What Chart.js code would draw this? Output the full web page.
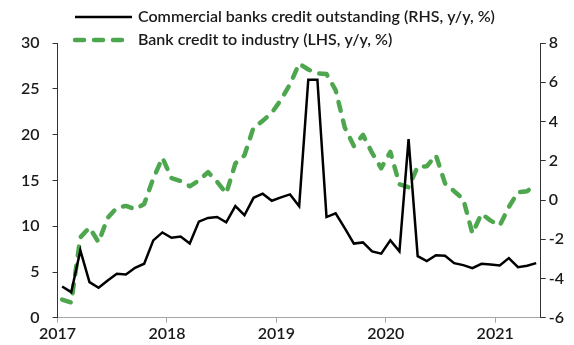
<!DOCTYPE html>
<html>
<head>
<meta charset="utf-8">
<script src="https://cdn.jsdelivr.net/npm/chart.js@4.4.1/dist/chart.umd.min.js"></script>
<style>
  html, body { margin: 0; padding: 0; background: #fff; }
  #wrap { width: 574px; height: 345px; position: relative; }
</style>
</head>
<body>
<div id="wrap"><canvas id="c"></canvas></div>
<script>
// Monthly observations, Jan 2017 - May 2021
const months = [
  '2017-01','2017-02','2017-03','2017-04','2017-05','2017-06','2017-07','2017-08','2017-09','2017-10','2017-11','2017-12',
  '2018-01','2018-02','2018-03','2018-04','2018-05','2018-06','2018-07','2018-08','2018-09','2018-10','2018-11','2018-12',
  '2019-01','2019-02','2019-03','2019-04','2019-05','2019-06','2019-07','2019-08','2019-09','2019-10','2019-11','2019-12',
  '2020-01','2020-02','2020-03','2020-04','2020-05','2020-06','2020-07','2020-08','2020-09','2020-10','2020-11','2020-12',
  '2021-01','2021-02','2021-03','2021-04','2021-05'
];

// Commercial banks credit outstanding, y/y %
const commercialCredit = [
  3.42, 2.8, 7.36, 3.9, 3.28, 4.08, 4.8, 4.73, 5.46, 5.9, 8.45, 9.32,
  8.74, 8.88, 8.12, 10.5, 10.9, 11.0, 10.42, 12.2, 11.2, 13.1, 13.55, 12.78,
  13.15, 13.47, 12.18, 26.0, 26.0, 11.0, 11.4, 9.8, 8.1, 8.23, 7.25, 7.0,
  8.45, 7.25, 19.5, 6.73, 6.19, 6.83, 6.78, 5.97, 5.75, 5.42, 5.9, 5.82,
  5.72, 6.52, 5.53, 5.68, 5.97
];

// Bank credit to industry, y/y %
const industryCredit = [
  -5.07, -5.22, -1.9, -1.4, -2.15, -0.9, -0.4, -0.3, -0.47, -0.2, 1.1, 2.15,
  1.12, 0.97, 0.7, 1.0, 1.42, 0.93, 0.33, 1.86, 2.28, 3.7, 4.03, 4.45,
  5.1, 5.9, 6.95, 6.65, 6.45, 6.42, 5.6, 3.7, 2.75, 3.32, 2.4, 1.62,
  2.45, 0.8, 0.65, 1.7, 1.72, 2.28, 0.85, 0.45, 0.05, -1.7, -0.7, -1.05,
  -1.3, -0.35, 0.4, 0.45, 0.8
];

const yearTicks = [2017, 2018, 2019, 2020, 2021];
const leftTicks = [0, 5, 10, 15, 20, 25, 30];
const rightTicks = [-6, -4, -2, 0, 2, 4, 6, 8];

const seriesNames = [
  'Commercial banks credit outstanding (RHS, y/y, %)',
  'Bank credit to industry (LHS, y/y, %)'
];

// place each monthly value at the middle of its month on a year axis
function toYear(m) {
  const [y, mo] = m.split('-').map(Number);
  return y + (mo - 0.5) / 12;
}
const pts = arr => arr.map((v, i) => ({ x: toYear(months[i]), y: v }));
const lastMonth = months[months.length - 1].split('-').map(Number);
const xMax = lastMonth[0] + lastMonth[1] / 12;

const FONT = "'Lato', 'Noto Sans', sans-serif";
const INK = '#1a1a1a';
const GREEN = '#4ea74f';
const TICK_FONT = { family: FONT, size: 16, weight: 600 };

// key drawn above the plot: a line sample followed by the series name
const seriesKey = {
  id: 'seriesKey',
  afterDraw(chart) {
    const ctx = chart.ctx;
    const rows = [17, 40];
    ctx.save();
    chart.data.datasets.forEach((ds, i) => {
      const y = rows[i];
      ctx.beginPath();
      ctx.setLineDash(ds.borderDash || []);
      ctx.lineCap = ds.borderCapStyle || 'butt';
      ctx.lineWidth = ds.borderWidth;
      ctx.strokeStyle = ds.borderColor;
      ctx.moveTo(75, y);
      ctx.lineTo(132, y);
      ctx.stroke();
      ctx.setLineDash([]);
      ctx.fillStyle = INK;
      ctx.font = "600 16px " + FONT;
      ctx.textBaseline = 'middle';
      ctx.textAlign = 'left';
      ctx.fillText(ds.label, 138, y);
    });
    ctx.restore();
  }
};

new Chart(document.getElementById('c'), {
  type: 'line',
  data: {
    datasets: [
      {
        label: seriesNames[0],
        data: pts(commercialCredit),
        yAxisID: 'y',
        borderColor: '#000',
        borderWidth: 2.5,
        pointRadius: 0,
        tension: 0,
        borderJoinStyle: 'miter'
      },
      {
        label: seriesNames[1],
        data: pts(industryCredit),
        yAxisID: 'y1',
        borderColor: GREEN,
        borderWidth: 4.5,
        borderDash: [9, 10],
        borderCapStyle: 'round',
        borderJoinStyle: 'round',
        pointRadius: 0,
        tension: 0
      }
    ]
  },
  options: {
    responsive: true,
    maintainAspectRatio: false,
    animation: false,
    layout: { padding: { top: 43, left: 8, right: 7, bottom: 1 } },
    plugins: { legend: { display: false }, tooltip: { enabled: false } },
    scales: {
      x: {
        type: 'linear',
        min: yearTicks[0],
        max: xMax,
        afterBuildTicks: s => { s.ticks = yearTicks.map(v => ({ value: v })); },
        ticks: {
          color: INK,
          font: TICK_FONT,
          padding: 1,
          maxRotation: 0,
          callback: v => String(v)
        },
        grid: { drawOnChartArea: false, drawTicks: true, tickLength: 5, color: '#a6a6a6', lineWidth: 1 },
        border: { display: true, color: '#a6a6a6', width: 1 }
      },
      y: {
        position: 'left',
        min: leftTicks[0],
        max: leftTicks[leftTicks.length - 1],
        afterBuildTicks: s => { s.ticks = leftTicks.map(v => ({ value: v })); },
        ticks: {
          color: INK,
          font: TICK_FONT,
          padding: 13
        },
        grid: { drawOnChartArea: false, drawTicks: true, tickLength: 5, color: '#333', lineWidth: 1 },
        border: { display: true, color: '#333', width: 1 }
      },
      y1: {
        position: 'right',
        min: rightTicks[0],
        max: rightTicks[rightTicks.length - 1],
        afterBuildTicks: s => { s.ticks = rightTicks.map(v => ({ value: v })); },
        ticks: {
          color: INK,
          font: TICK_FONT,
          padding: 3
        },
        grid: { drawOnChartArea: false, drawTicks: true, tickLength: 5, color: '#333', lineWidth: 1 },
        border: { display: true, color: '#333', width: 1 }
      }
    }
  },
  plugins: [seriesKey]
});
</script>
</body>
</html>
